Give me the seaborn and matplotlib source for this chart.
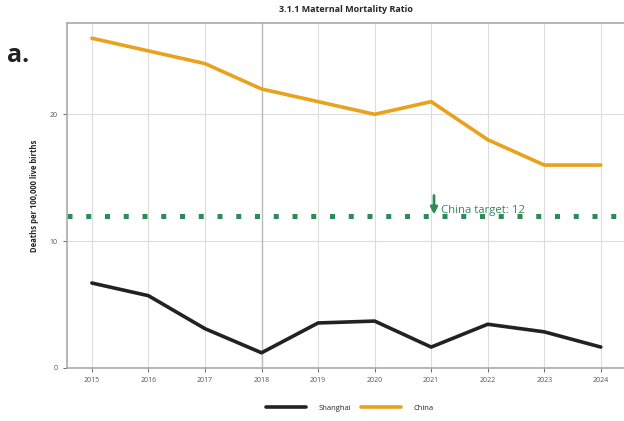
import numpy as np
import pandas as pd
import matplotlib
matplotlib.use("Agg")
import matplotlib.pyplot as plt
import seaborn as sns
from matplotlib.lines import Line2D

# data
years = [2015, 2016, 2017, 2018, 2019, 2020, 2021, 2022, 2023, 2024]
shanghai = [6.7, 5.7, 3.1, 1.2, 3.55, 3.7, 1.65, 3.45, 2.85, 1.65]
china = [26.0, 25.0, 24.0, 22.0, 21.0, 20.0, 21.0, 18.0, 16.0, 16.0]
china_target = 12
series_names = ["Shanghai", "China"]
series_colors = ["#222222", "#E8A21C"]
green = "#2E8B57"

df = pd.DataFrame({
    "year": years * 2,
    "value": shanghai + china,
    "region": ["Shanghai"] * len(years) + ["China"] * len(years),
})

sns.set_style("white")
plt.rcParams["font.family"] = ["Open Sans", "DejaVu Sans"]

fig = plt.figure(figsize=(6.24, 4.21), dpi=100)
ax = fig.add_axes([67 / 624, 53 / 421, 557 / 624, 345 / 421])

sns.lineplot(data=df, x="year", y="value", hue="region", hue_order=series_names,
             palette=series_colors, linewidth=2.6, ax=ax, legend=False, zorder=3)

# target line
ax.axhline(china_target, color=green, linestyle=(0, (1, 2.75)), linewidth=3.6,
           dash_capstyle="butt", zorder=2)
ax.annotate("", xy=(2021.05, china_target + 0.1), xytext=(2021.05, china_target + 1.6),
            arrowprops=dict(arrowstyle="-|>", color=green, lw=2, mutation_scale=10,
                            shrinkA=0, shrinkB=0))
ax.text(2021.17, china_target + 0.45, "China target: 12", color=green, fontsize=8.2,
        va="center", ha="left")

# highlighted gridline
ax.axvline(2018, color="#bbbbbb", linewidth=1.0, zorder=1)

ax.set_xlim(2014.56, 2024.41)
ax.set_ylim(0, 27.2)
ax.set_xticks(years)
ax.set_yticks([0, 10, 20])
ax.tick_params(axis="both", labelsize=5, colors="#555555", length=3, width=0.6,
               direction="out", left=True, bottom=True)
ax.grid(True, color="#dddddd", linewidth=0.8)
for s in ["left", "bottom", "top"]:
    ax.spines[s].set_color("#aaaaaa")
    ax.spines[s].set_linewidth(1.2)
ax.spines["right"].set_visible(False)
ax.set_xlabel("")
ax.set_ylabel("Deaths per 100,000 live births", fontsize=5.5, fontweight="bold", labelpad=8)

fig.text(346 / 624, 1 - 10 / 421, "3.1.1 Maternal Mortality Ratio", ha="center", va="center",
         fontsize=6.5, fontweight="bold")
fig.text(7 / 624, 1 - 55 / 421, "a.", ha="left", va="center", fontsize=18, fontweight="bold",
         color="#222222")

# legend at bottom
handles = [Line2D([0], [0], color=c, lw=2.6) for c in series_colors]
fig.legend(handles, series_names, loc="center", bbox_to_anchor=(350 / 624, 1 - 408 / 421),
           ncol=2, frameon=False, fontsize=5.5, handlelength=5.2, columnspacing=1.3,
           handletextpad=1.7)

fig.savefig("out.png", dpi=100)
